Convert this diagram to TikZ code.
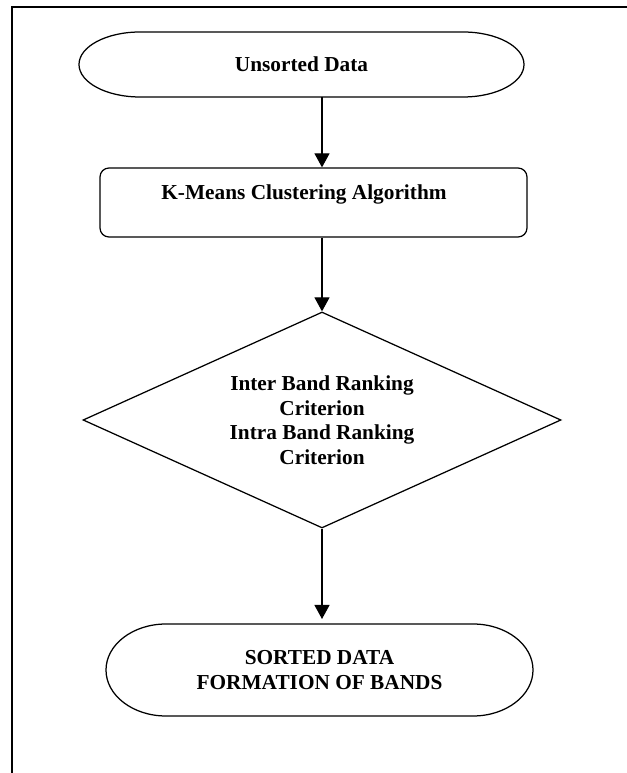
\documentclass[tikz,border=0pt]{standalone}
\usepackage{fontspec}
\setmainfont{Liberation Serif}
\usetikzlibrary{arrows.meta,shapes.geometric,calc}
\begin{document}
\begin{tikzpicture}[x=1pt,y=1pt,
  every node/.style={font=\fontsize{21.3}{24.5}\selectfont\bfseries},
  line/.style={draw=black,line width=1.25pt},
  arr/.style={line width=1.2pt,-{Triangle[length=14pt,width=15pt]}},
  frame/.style={line width=2pt},
  termbox/.style={minimum width=#1,inner sep=0pt,outer sep=0pt,align=center}]
\useasboundingbox (0,0) rectangle (626,773);

% page frame (top and left edges)
\draw[frame] (11.7,-5) -- (11.7,765.7) -- (640,765.7);

% start terminal
\node[termbox=445pt,minimum height=65pt] (start) at (301.5,708.5) {Unsorted Data};
\draw[line] ($(start.north west)+(61,0)$) -- ($(start.north east)+(-61,0)$)
  arc[start angle=90,end angle=-90,x radius=61pt,y radius=32.5pt]
  -- ($(start.south west)+(61,0)$)
  arc[start angle=270,end angle=90,x radius=61pt,y radius=32.5pt] -- cycle;

% clustering step: box, with its caption set a little up and to the left
\node[line,rounded corners=9pt,minimum width=427pt,minimum height=69pt] (kmeans) at (313.5,570.5) {};
\node[anchor=base] (kmeanstext) at ($(kmeans.center)+(-9.5,2.5)$) {K-Means Clustering Algorithm};

% ranking criteria
\node[line,diamond,aspect=2.2,minimum width=478pt,minimum height=216pt,
  inner sep=0pt,align=center] (crit) at (322,353)
  {Inter Band Ranking\\Criterion\\Intra Band Ranking\\Criterion};

% end terminal
\node[termbox=427pt,minimum height=92pt] (finish) at (319.5,103)
  {SORTED DATA\\FORMATION OF BANDS};
\draw[line] ($(finish.north west)+(60,0)$) -- ($(finish.north east)+(-60,0)$)
  arc[start angle=90,end angle=-90,x radius=60pt,y radius=46pt]
  -- ($(finish.south west)+(60,0)$)
  arc[start angle=270,end angle=90,x radius=60pt,y radius=46pt] -- cycle;

% connectors
\draw[arr] (start.south -| crit.north) -- (kmeans.north -| crit.north);
\draw[arr] (kmeans.south -| crit.north) -- (crit.north);
\draw[arr,shorten >=5pt] (crit.south) -- (finish.north -| crit.south);
\end{tikzpicture}
\end{document}
